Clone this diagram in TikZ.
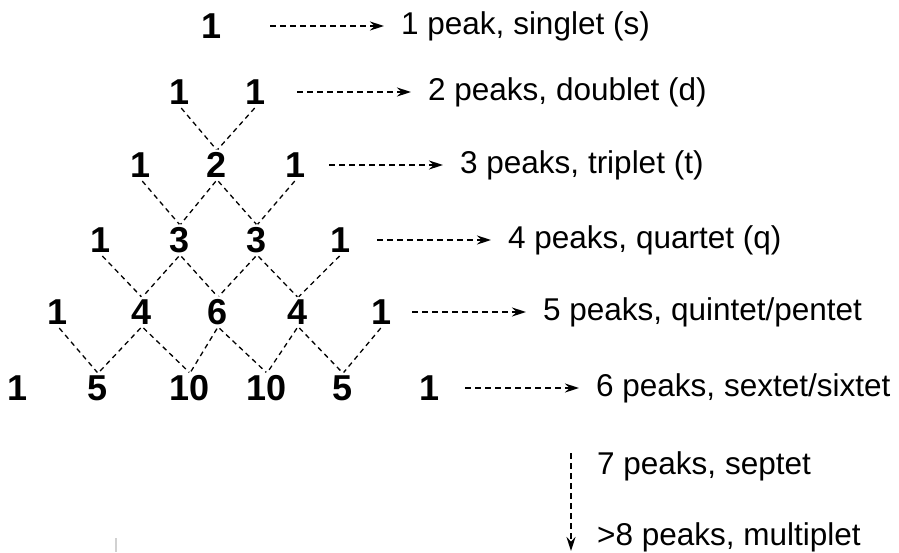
\documentclass[tikz,border=0pt]{standalone}
\usepackage{fontspec}
\setmainfont{Liberation Sans}
\usetikzlibrary{arrows.meta}
\begin{document}
\begin{tikzpicture}[x=1pt,y=-1pt,
  coef/.style={font=\fontsize{36}{40}\selectfont\bfseries, inner sep=2pt},
  lbl/.style={font=\fontsize{31.5}{37}\selectfont, anchor=west, inner sep=0pt},
  link/.style={draw, line width=1.3pt, dash pattern=on 5pt off 4pt, shorten <=2pt, shorten >=1pt},
  arr/.style={draw, line width=1.7pt, dash pattern=on 6pt off 4pt,
    -{Stealth[length=14pt,width=9pt]}}
]
\useasboundingbox (0,0) rectangle (899,552);

% Pascal's triangle of multiplicities
\node[coef] (a1) at (212,26) {1};
\node[coef] (b1) at (180,92) {1};
\node[coef] (b2) at (256,92) {1};
\node[coef] (c1) at (141,165) {1};
\node[coef] (c2) at (217,165) {2};
\node[coef] (c3) at (296,165) {1};
\node[coef] (d1) at (101,240) {1};
\node[coef] (d2) at (180,240) {3};
\node[coef] (d3) at (257,240) {3};
\node[coef] (d4) at (341,240) {1};
\node[coef] (e1) at (58,312) {1};
\node[coef] (e2) at (142,312) {4};
\node[coef] (e3) at (218,312) {6};
\node[coef] (e4) at (298,312) {4};
\node[coef] (e5) at (382,312) {1};
\node[coef] (f1) at (18,388) {1};
\node[coef] (f2) at (98,388) {5};
\node[coef] (f3) at (190,388) {10};
\node[coef] (f4) at (267,388) {10};
\node[coef] (f5) at (343,388) {5};
\node[coef] (f6) at (430,388) {1};

% dashed links: each inner entry is the sum of the two above it
\foreach \u/\l in {b1/c2,b2/c2,
                   c1/d2,c2/d2,c2/d3,c3/d3,
                   d1/e2,d2/e2,d2/e3,d3/e3,d3/e4,d4/e4,
                   e1/f2,e2/f2,e2/f3,e3/f3,e3/f4,e4/f4,e4/f5,e5/f5}
  \path[link] (\u.south) -- (\l.north);

% multiplet names
\node[lbl] (l1) at (401,26)  {1 peak, singlet (s)};
\node[lbl] (l2) at (428,92)  {2 peaks, doublet (d)};
\node[lbl] (l3) at (460,165) {3 peaks, triplet (t)};
\node[lbl] (l4) at (508,240) {4 peaks, quartet (q)};
\node[lbl] (l5) at (543,312) {5 peaks, quintet/pentet};
\node[lbl] (l6) at (596,388) {6 peaks, sextet/sixtet};
\node[lbl] (l7) at (597,466) {7 peaks, septet};
\node[lbl] (l8) at (597,537) {>8 peaks, multiplet};

\foreach \i in {1,...,6}
  \path[arr] ([xshift=-131pt]l\i.west) -- ([xshift=-17pt]l\i.west);

% downward arrow for larger multiplets
\coordinate (vtop) at (571,453);
\coordinate (vbot) at (571,551);
\path[arr] (vtop) -- (vbot);

% faint mark at the lower edge
\draw[line width=1.8pt, black!18] (116,538) -- (116,552);
\end{tikzpicture}
\end{document}
